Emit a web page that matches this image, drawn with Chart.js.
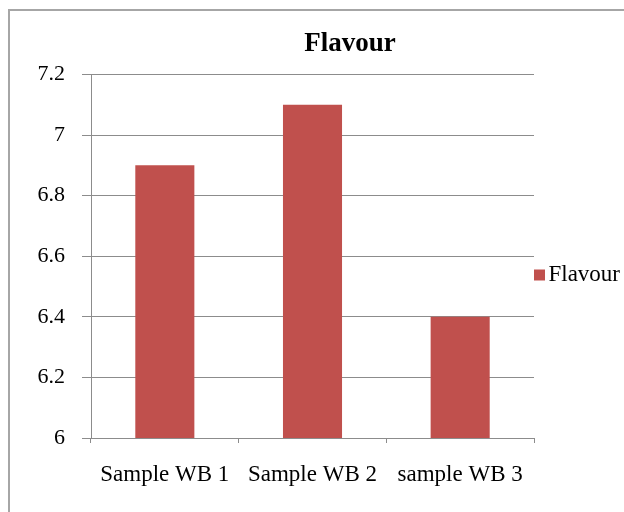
<!DOCTYPE html>
<html>
<head>
<meta charset="utf-8">
<script src="https://cdn.jsdelivr.net/npm/chart.js@4/dist/chart.umd.min.js"></script>
<style>
  html, body { margin: 0; padding: 0; background: #ffffff; }
  canvas { display: block; }
</style>
</head>
<body>
<canvas id="chart" width="624" height="512"></canvas>
<script>
// Flavour scores per sample
const categories = ['Sample WB 1', 'Sample WB 2', 'sample WB 3'];
const flavourScores = [6.9, 7.1, 6.4];
const seriesName = 'Flavour';
const chartTitle = 'Flavour';
const yMin = 6;
const yMax = 7.2;
const yStep = 0.2;

const SERIF = "'Liberation Serif', 'Times New Roman', serif";
const GRID = '#8c8c8c';

// Grey frame around the whole chart
const framePlugin = {
  id: 'frame',
  beforeDraw(chart) {
    const ctx = chart.ctx;
    ctx.save();
    ctx.fillStyle = '#ffffff';
    ctx.fillRect(0, 0, chart.width, chart.height);
    ctx.strokeStyle = '#a6a6a6';
    ctx.lineWidth = 2;
    ctx.strokeRect(9, 10, chart.width + 40, chart.height + 40);
    ctx.restore();
  }
};

// Title sits right of centre; legend entry slightly below the middle
const blockOffsets = {
  id: 'blockOffsets',
  afterLayout(chart) {
    const tb = chart.titleBlock;
    if (tb) { tb.left += 40; tb.right += 40; }
    const lg = chart.legend;
    if (lg) { lg.top += 19; lg.bottom += 19; }
  }
};

new Chart(document.getElementById('chart'), {
  type: 'bar',
  data: {
    labels: categories,
    datasets: [{
      label: seriesName,
      data: flavourScores,
      backgroundColor: '#c0504d',
      borderWidth: 0,
      barPercentage: 0.4,
      categoryPercentage: 1.0
    }]
  },
  options: {
    responsive: false,
    animation: false,
    devicePixelRatio: 1,
    layout: { padding: { left: 0, right: 4, top: 0, bottom: 0 } },
    plugins: {
      title: {
        display: true,
        text: chartTitle,
        color: '#000000',
        font: { family: SERIF, size: 27, weight: 'bold' },
        padding: { top: 28, bottom: 14 }
      },
      legend: {
        position: 'right',
        maxWidth: 86,
        labels: {
          boxWidth: 11,
          boxHeight: 11,
          padding: 0,
          textAlign: 'right',
          color: '#000000',
          font: { family: SERIF, size: 23 }
        }
      },
      tooltip: { enabled: false }
    },
    scales: {
      x: {
        grid: {
          offset: true,
          drawOnChartArea: false,
          drawTicks: true,
          tickLength: 5,
          color: GRID
        },
        border: { color: GRID, width: 1 },
        ticks: {
          color: '#000000',
          padding: 18,
          maxRotation: 0,
          font: { family: SERIF, size: 23 }
        },
        afterFit(scale) { scale.height = 74; }
      },
      y: {
        min: yMin,
        max: yMax,
        grid: {
          color: GRID,
          drawTicks: true,
          tickLength: 9
        },
        border: { color: GRID, width: 1 },
        ticks: {
          stepSize: yStep,
          color: '#000000',
          padding: 17,
          font: { family: SERIF, size: 22 },
          callback: (v) => String(Number(v.toFixed(1)))
        },
        afterFit(scale) { scale.width = 91; }
      }
    }
  },
  plugins: [framePlugin, blockOffsets]
});
</script>
</body>
</html>
